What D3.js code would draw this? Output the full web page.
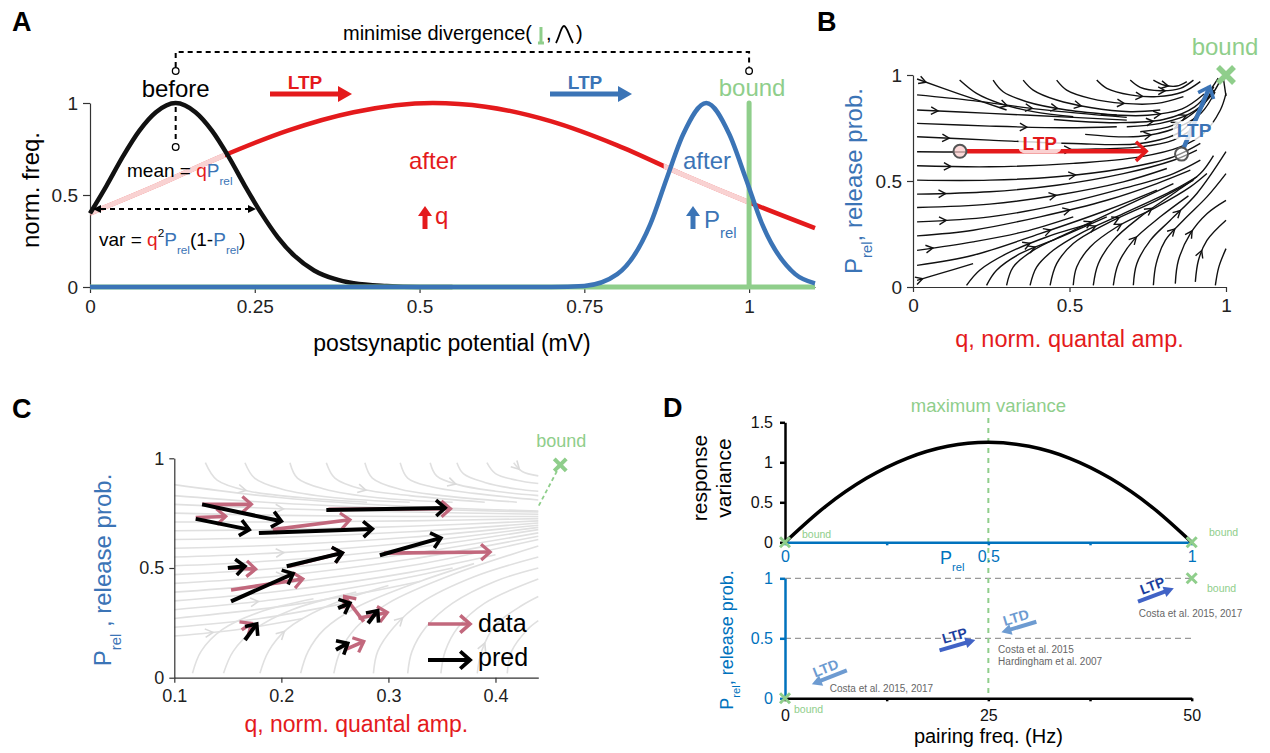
<!DOCTYPE html>
<html>
<head>
<meta charset="utf-8">
<script src="https://cdn.jsdelivr.net/npm/d3@7"></script>
<style>
  body { margin: 0; background: #fff; }
  svg { font-family: "Liberation Sans", Arial, Helvetica, sans-serif; }
</style>
</head>
<body>
<svg id="fig" width="1270" height="753"></svg>
<script>
const FONT = '"Liberation Sans", Arial, Helvetica, sans-serif'
const red = '#e41a1c', blue = '#3b74b6', green = '#8fce8b', pink = '#c2687d'
const mBlue = '#0072bd', ltpBlue = '#4163c6', ltpText = '#1c3f9e', ltdBlue = '#6d9bd1'

// ---------- data : panel A (x in mV, y = norm. freq.) ----------
const aTicksX = [0, 0.25, 0.5, 0.75, 1]
const aTicksY = [0, 0.5, 1]
const beforeCurve = [[0,.40],[.025,.55],[.05,.71],[.075,.85],[.1,.95],[.13,1],[.16,.95],[.185,.85],[.21,.71],[.235,.55],[.26,.40],[.285,.27],[.31,.17],[.34,.09],[.37,.045],[.40,.02],[.45,.005],[.5,0],[.55,0]]
const afterQCurve = [[0,.40],[.1,.55],[.2,.71],[.3,.85],[.4,.95],[.52,1],[.6,.98],[.7,.90],[.8,.77],[.9,.61],[1,.46],[1.1,.32]]
const afterPCurve = [[0,0],[.7,0],[.75,.006],[.8,.07],[.85,.34],[.875,.59],[.9,.83],[.935,1],[.97,.83],[.995,.59],[1.02,.34],[1.07,.07],[1.1,.02]]
const boundCurve = [[0,0],[1,0],[1,1],[1,0],[1.1,0]]
const hiddenQ = [[0,.205],[.875,1]]

// ---------- data : panel B (q, P_rel) streamlines ----------
const bTicks = [0, 0.5, 1]
const bStreams = [
  [[.013,.981],[.149,.910],[.299,.835]],
  [[.013,.906],[.192,.879],[.406,.838],[.683,.800]],
  [[.013,.835],[.245,.819],[.512,.800],[.683,.787]],
  [[.013,.772],[.245,.759],[.491,.751],[.651,.756]],
  [[.013,.709],[.245,.693],[.512,.677],[.726,.677],[.854,.732],[.918,.835],[.961,.945]],
  [[.013,.638],[.277,.638],[.512,.649],[.726,.661],[.832,.693],[.896,.748]],
  [[.013,.572],[.245,.567],[.512,.583],[.726,.614],[.854,.661],[.928,.724],[.982,.835],[1.0,.913]],
  [[.013,.504],[.245,.504],[.459,.520],[.672,.559],[.832,.614],[.918,.677]],
  [[.013,.438],[.245,.449],[.459,.480],[.672,.535],[.832,.598],[.907,.646]],
  [[.013,.375],[.245,.391],[.459,.433],[.672,.496],[.811,.559]],
  [[.013,.307],[.245,.331],[.459,.386],[.672,.465],[.832,.535],[.918,.598]],
  [[.013,.241],[.192,.268],[.406,.331],[.619,.409],[.779,.488],[.886,.551]],
  [[.013,.173],[.192,.213],[.352,.260],[.512,.331]],
  [[.013,.102],[.192,.150],[.406,.252],[.619,.362],[.779,.457]],
  [[.013,.031],[.085,.063],[.192,.110]],
  [[.171,.008],[.213,.079],[.299,.157],[.427,.236],[.566,.299]],
  [[.235,.008],[.267,.079],[.342,.157],[.459,.228],[.619,.331]],
  [[.299,.008],[.320,.094],[.384,.173],[.491,.252],[.672,.378],[.832,.488]],
  [[.374,.008],[.395,.094],[.448,.173],[.534,.252],[.672,.346],[.832,.457],[.907,.520]],
  [[.438,.008],[.459,.110],[.512,.205],[.619,.299],[.779,.409],[.896,.504]],
  [[.512,.008],[.523,.094],[.566,.189],[.651,.283],[.779,.378],[.886,.472],[.939,.535]],
  [[.576,.008],[.592,.110],[.640,.220],[.726,.331],[.832,.441],[.918,.535],[.960,.620]],
  [[.640,.008],[.656,.110],[.704,.220],[.790,.331],[.880,.430]],
  [[.704,.008],[.715,.110],[.758,.220],[.822,.315],[.907,.441],[1.0,.638]],
  [[.768,.008],[.777,.110],[.806,.220],[.864,.315],[.939,.425],[1.0,.535]],
  [[.838,.016],[.848,.126],[.886,.252],[.939,.346],[1.0,.409]],
  [[.902,.024],[.912,.126],[.939,.220],[1.0,.315]],
  [[.966,.008],[.977,.094],[1.0,.181]],
  [[.149,.976],[.203,.913],[.277,.866],[.384,.827],[.512,.803]],
  [[.256,.976],[.288,.921],[.363,.874],[.491,.835],[.651,.811]],
  [[.352,.976],[.384,.929],[.459,.882],[.566,.847],[.694,.827],[.790,.835]],
  [[.459,.976],[.491,.929],[.566,.890],[.672,.866],[.779,.866],[.864,.898]],
  [[.587,.976],[.619,.937],[.694,.906],[.779,.898],[.864,.921],[.918,.969]],
  [[.694,.976],[.726,.942],[.790,.926],[.854,.937],[.896,.976]],
  [[.768,.976],[.801,.953],[.843,.948],[.875,.969]],
  [[.683,.756],[.790,.772],[.886,.819],[.950,.898],[.982,.976]],
  [[.726,.732],[.832,.764],[.907,.835],[.961,.929]],
  [[.45,.79],[.65,.775],[.80,.79],[.90,.85],[.95,.93],[.975,.985]],
  [[.55,.72],[.72,.71],[.84,.75],[.92,.82],[.965,.92]],
  [[.60,.815],[.75,.81],[.86,.84],[.93,.91]],
  [[1.0,.90],[.992,.98]]
]
const bLtpQ = { from: [.15,.64], to: [.745,.64] }
const bLtpP = { from: [.858,.627], to: [.948,.945] }

// ---------- data : panel C ----------
const cTicksX = [0.1, 0.2, 0.3, 0.4]
const cTicksY = [0, 0.5, 1]
const cStreams = [
  [[.129,.98],[.14,.9],[.17,.85],[.22,.82],[.28,.80]],
  [[.166,.98],[.175,.91],[.2,.86],[.25,.82],[.32,.80]],
  [[.208,.98],[.215,.91],[.24,.86],[.29,.82],[.36,.80]],
  [[.242,.98],[.25,.91],[.275,.86],[.32,.83],[.39,.80]],
  [[.278,.98],[.285,.91],[.31,.86],[.35,.83],[.42,.80]],
  [[.311,.98],[.318,.91],[.34,.87],[.38,.84],[.44,.81]],
  [[.339,.98],[.345,.92],[.365,.88],[.40,.85],[.44,.83]],
  [[.364,.98],[.37,.93],[.39,.89],[.42,.86],[.44,.85]],
  [[.392,.98],[.40,.93],[.42,.90],[.44,.885]],
  [[.417,.98],[.425,.94],[.44,.92]],
  [[.1,.88],[.2,.82],[.32,.78],[.44,.76]],
  [[.1,.83],[.2,.795],[.32,.77],[.44,.755]],
  [[.1,.79],[.2,.77],[.32,.755],[.44,.745]],
  [[.1,.75],[.2,.74],[.32,.735],[.44,.735]],
  [[.1,.71],[.2,.71],[.32,.715],[.44,.725]],
  [[.1,.67],[.2,.675],[.32,.69],[.44,.715]],
  [[.1,.63],[.2,.64],[.32,.665],[.44,.705]],
  [[.1,.59],[.2,.605],[.32,.64],[.44,.695]],
  [[.1,.55],[.2,.57],[.32,.615],[.44,.685]],
  [[.1,.51],[.2,.535],[.32,.59],[.44,.675]],
  [[.1,.47],[.2,.50],[.32,.565],[.44,.66]],
  [[.1,.43],[.2,.465],[.32,.54],[.44,.645]],
  [[.1,.39],[.2,.43],[.32,.51],[.44,.63]],
  [[.1,.35],[.2,.395],[.32,.48],[.40,.56]],
  [[.1,.31],[.2,.36],[.30,.44],[.36,.50]],
  [[.1,.27],[.2,.325],[.28,.39],[.33,.44]],
  [[.1,.23],[.18,.27],[.26,.34]],
  [[.1,.19],[.16,.22],[.22,.27]],
  [[.117,.02],[.125,.12],[.145,.22],[.18,.30],[.23,.36]],
  [[.146,.02],[.155,.12],[.175,.22],[.21,.31],[.27,.39]],
  [[.18,.02],[.188,.12],[.205,.22],[.24,.32],[.30,.42]],
  [[.218,.02],[.225,.12],[.24,.22],[.27,.32],[.33,.44],[.38,.52]],
  [[.249,.02],[.255,.12],[.27,.23],[.30,.34],[.36,.47],[.44,.60]],
  [[.286,.02],[.29,.12],[.305,.23],[.33,.34],[.38,.46],[.44,.55]],
  [[.318,.02],[.322,.12],[.335,.23],[.36,.34],[.40,.44],[.44,.50]],
  [[.349,.02],[.353,.12],[.365,.23],[.39,.34],[.44,.45]],
  [[.383,.02],[.387,.12],[.40,.24],[.425,.33],[.44,.37]],
  [[.411,.02],[.415,.12],[.43,.22],[.44,.26]]
]
// measured (data) and predicted changes: [q0, P0, q1, P1]
const cData = [
  [.126,.79,.172,.79],[.12,.73,.148,.735],[.192,.675,.264,.72],[.244,.767,.358,.77],
  [.296,.568,.395,.573],[.207,.508,.257,.569],[.152,.50,.176,.495],[.153,.40,.22,.45],
  [.163,.218,.172,.248],[.277,.256,.259,.37],[.272,.271,.299,.297],[.259,.127,.277,.165]
]
const cPred = [
  [.126,.79,.20,.713],[.12,.724,.17,.675],[.179,.66,.285,.678],[.242,.764,.353,.774],
  [.292,.558,.349,.637],[.205,.508,.257,.569],[.15,.50,.166,.508],[.153,.348,.211,.474],
  [.166,.172,.177,.245],[.253,.317,.264,.34],[.281,.248,.29,.306],[.251,.127,.262,.157]
]
const cBound = [.4605, .97]

// ---------- data : panel D ----------
const dVarP = [0, .1, .2, .3, .4, .5, .6, .7, .8, .9, 1]
const dVar = [0, .45, .8, 1.05, 1.2, 1.25, 1.2, 1.05, .8, .45, 0]
const dArrows = [
  { kind: 'LTD', from: [7.6,.233], to: [3.3,.117] },
  { kind: 'LTP', from: [19.0,.40], to: [23.4,.486] },
  { kind: 'LTD', from: [30.9,.638], to: [26.6,.55] },
  { kind: 'LTP', from: [43.4,.805], to: [47.8,.917] }
]
const dRefs = [
  { f: 5.5, p: .055, lines: ['Costa et al. 2015, 2017'] },
  { f: 26.2, p: .38, lines: ['Costa et al. 2015', 'Hardingham et al. 2007'] },
  { f: 43.5, p: .68, lines: ['Costa et al. 2015, 2017'] }
]

// ---------- helpers ----------
const svg = d3.select('#fig')

function chevron(g, x1, y1, x2, y2, len, color, w, ang = 0.62) {
  const a = Math.atan2(y2 - y1, x2 - x1)
  const p1 = [x2 - len * Math.cos(a - ang), y2 - len * Math.sin(a - ang)]
  const p2 = [x2 - len * Math.cos(a + ang), y2 - len * Math.sin(a + ang)]
  g.append('path').attr('d', `M${p1}L${x2},${y2}L${p2}`)
    .attr('fill', 'none').attr('stroke', color).attr('stroke-width', w)
}
function solidArrow(g, x1, y1, x2, y2, hl, hw, color, w) {
  const a = Math.atan2(y2 - y1, x2 - x1), c = Math.cos(a), s = Math.sin(a)
  const bx = x2 - hl * c, by = y2 - hl * s
  g.append('line').attr('x1', x1).attr('y1', y1).attr('x2', bx + c).attr('y2', by + s)
    .attr('stroke', color).attr('stroke-width', w)
  g.append('path')
    .attr('d', `M${x2},${y2}L${bx - hw / 2 * s},${by + hw / 2 * c}L${bx + hw / 2 * s},${by - hw / 2 * c}Z`)
    .attr('fill', color)
}
function rich(g, x, y, size, parts, anchor = 'start') {
  const t = g.append('text').attr('x', x).attr('y', y).attr('font-size', size).attr('text-anchor', anchor)
  let cur = 0
  parts.forEach(p => {
    const off = p.sub ? size * 0.4 : p.sup ? -size * 0.5 : 0
    t.append('tspan').attr('dy', off - cur)
      .attr('font-size', (p.sub || p.sup) ? size * 0.62 : size)
      .attr('fill', p.c || '#000').text(p.t)
    cur = off
  })
  return t
}
function styleAxis(sel, size, col, txt, w) {
  sel.attr('font-family', FONT)
  sel.select('.domain').attr('stroke', col).attr('stroke-width', w || 1.2)
  sel.selectAll('.tick line').attr('stroke', col).attr('stroke-width', w || 1.2)
  sel.selectAll('.tick text').attr('font-size', size).attr('fill', txt || '#222')
}
function streamArrows(g, path, fracs, color, len, w) {
  const node = path.node(), L = node.getTotalLength()
  fracs.forEach(f => {
    const p = node.getPointAtLength(f * L), q = node.getPointAtLength(f * L - 2)
    chevron(g, q.x, q.y, p.x, p.y, len, color, w, 0.5)
  })
}
function panelLetter(x, y, t) {
  svg.append('text').attr('x', x).attr('y', y).attr('font-size', 27).attr('font-weight', 700).text(t)
}
function bgLabel(g, x, y, txt, color, size) {
  const t = g.append('text').attr('x', x).attr('y', y).attr('text-anchor', 'middle')
    .attr('font-size', size).attr('font-weight', 700).attr('fill', color).text(txt)
  const bb = t.node().getBBox()
  g.insert('rect', () => t.node()).attr('x', bb.x - 4).attr('y', bb.y + 1)
    .attr('width', bb.width + 8).attr('height', bb.height - 2).attr('rx', 6)
    .attr('fill', '#fff').attr('fill-opacity', 0.8)
}

// =================== PANEL A ===================
const gA = svg.append('g')
const xA = d3.scaleLinear().domain([0, 1.1]).range([90, 815])
const yA = d3.scaleLinear().domain([0, 1]).range([287, 103])
panelLetter(12, 31, 'A')

gA.append('g').attr('transform', 'translate(0,287)')
  .call(d3.axisBottom(xA).tickValues(aTicksX).tickSize(6).tickSizeOuter(0).tickPadding(7).tickFormat(d => d))
  .call(s => styleAxis(s, 19, '#333'))
gA.append('g').attr('transform', 'translate(90,0)')
  .call(d3.axisLeft(yA).tickValues(aTicksY).tickSize(7).tickSizeOuter(0).tickPadding(5).tickFormat(d => d))
  .call(s => styleAxis(s, 19, '#333'))

const lineA = d3.line().x(d => xA(d[0])).y(d => yA(d[1])).curve(d3.curveMonotoneX)
gA.append('path').attr('d', lineA(afterQCurve)).attr('fill', 'none').attr('stroke', red).attr('stroke-width', 4.5)
hiddenQ.forEach((r, i) => {
  gA.append('clipPath').attr('id', 'hq' + i).append('rect')
    .attr('x', xA(r[0]) - 3).attr('y', 90).attr('width', xA(r[1]) - xA(r[0]) + 3).attr('height', 210)
  gA.append('path').attr('d', lineA(afterQCurve)).attr('clip-path', `url(#hq${i})`)
    .attr('fill', 'none').attr('stroke', '#f9d2d2').attr('stroke-width', 5)
})
gA.append('path').attr('d', lineA(beforeCurve)).attr('fill', 'none').attr('stroke', '#111').attr('stroke-width', 4.5)
gA.append('path').attr('d', d3.line().x(d => xA(d[0])).y(d => yA(d[1]))(boundCurve))
  .attr('fill', 'none').attr('stroke', green).attr('stroke-width', 5).attr('stroke-linejoin', 'round')
gA.append('path').attr('d', lineA(afterPCurve)).attr('fill', 'none').attr('stroke', blue).attr('stroke-width', 4.5)

// divergence bracket
const bx0 = xA(0.13), bx1 = xA(1)
gA.append('path').attr('d', `M${bx0},67V52H${bx1}V67`).attr('fill', 'none')
  .attr('stroke', '#000').attr('stroke-width', 2).attr('stroke-dasharray', '5,4')
;[bx0, bx1].forEach(x => gA.append('circle').attr('cx', x).attr('cy', 71).attr('r', 3.3)
  .attr('fill', '#fff').attr('stroke', '#000').attr('stroke-width', 1.3))
const divT = gA.append('text').attr('x', 343).attr('y', 40).attr('font-size', 20).text('minimise divergence(')
const dEnd = 343 + divT.node().getComputedTextLength()
gA.append('path').attr('d', `M${dEnd + 9},27V43M${dEnd + 6},43H${dEnd + 12}`).attr('stroke', green).attr('stroke-width', 3).attr('fill', 'none')
gA.append('text').attr('x', dEnd + 14).attr('y', 40).attr('font-size', 20).text(',')
gA.append('path').attr('d', `M${dEnd + 24},43C${dEnd + 28},36 ${dEnd + 29},26 ${dEnd + 32},26C${dEnd + 35},26 ${dEnd + 37},36 ${dEnd + 41},43`)
  .attr('stroke', '#000').attr('stroke-width', 1.8).attr('fill', 'none')
gA.append('text').attr('x', dEnd + 44).attr('y', 40).attr('font-size', 20).text(')')

// before / mean / var
gA.append('text').attr('x', bx0).attr('y', 97).attr('text-anchor', 'middle').attr('font-size', 24).text('before')
gA.append('line').attr('x1', bx0).attr('x2', bx0).attr('y1', yA(1) + 4).attr('y2', 143)
  .attr('stroke', '#000').attr('stroke-width', 2).attr('stroke-dasharray', '5,4')
gA.append('circle').attr('cx', bx0).attr('cy', 147).attr('r', 3.3).attr('fill', '#fff').attr('stroke', '#000').attr('stroke-width', 1.3)
rich(gA, 127, 177, 19, [{ t: 'mean = ' }, { t: 'q', c: red }, { t: 'P', c: blue }, { t: 'rel', c: blue, sub: 1 }])
const vy = 209
gA.append('line').attr('x1', 101).attr('x2', 247).attr('y1', vy).attr('y2', vy)
  .attr('stroke', '#000').attr('stroke-width', 2).attr('stroke-dasharray', '5,4')
solidArrow(gA, 104, vy, 93, vy, 8, 8, '#000', 2)
solidArrow(gA, 245, vy, 256, vy, 8, 8, '#000', 2)
rich(gA, 99, 246, 19, [{ t: 'var = ' }, { t: 'q', c: red }, { t: '2', sup: 1 }, { t: 'P', c: blue }, { t: 'rel', c: blue, sub: 1 },
  { t: '(1-' }, { t: 'P', c: blue }, { t: 'rel', c: blue, sub: 1 }, { t: ')' }])

// LTP arrows
gA.append('text').attr('x', 305).attr('y', 89).attr('text-anchor', 'middle').attr('font-size', 19).attr('font-weight', 700).attr('fill', red).text('LTP')
solidArrow(gA, 270, 94, 352, 94, 14, 16, red, 5)
gA.append('text').attr('x', 585).attr('y', 89).attr('text-anchor', 'middle').attr('font-size', 19).attr('font-weight', 700).attr('fill', blue).text('LTP')
solidArrow(gA, 550, 94, 632, 94, 14, 16, blue, 5)
gA.append('text').attr('x', xA(1) + 3).attr('y', 96).attr('text-anchor', 'middle').attr('font-size', 24).attr('fill', green).text('bound')

gA.append('text').attr('x', 433).attr('y', 169).attr('text-anchor', 'middle').attr('font-size', 24).attr('fill', red).text('after')
solidArrow(gA, 425, 229, 425, 206, 10, 14, red, 5)
gA.append('text').attr('x', 435).attr('y', 224).attr('font-size', 24).attr('fill', red).text('q')
gA.append('text').attr('x', 707).attr('y', 169).attr('text-anchor', 'middle').attr('font-size', 24).attr('fill', blue).text('after')
solidArrow(gA, 693, 229, 693, 206, 10, 14, blue, 5)
rich(gA, 704, 228, 24, [{ t: 'P', c: blue }, { t: 'rel', c: blue, sub: 1 }])

gA.append('text').attr('transform', 'translate(39,190) rotate(-90)').attr('text-anchor', 'middle').attr('font-size', 24).text('norm. freq.')
gA.append('text').attr('x', 452).attr('y', 351).attr('text-anchor', 'middle').attr('font-size', 23).text('postsynaptic potential (mV)')

// =================== PANEL B ===================
const gB = svg.append('g')
const xB = d3.scaleLinear().domain([0, 1]).range([913, 1226])
const yB = d3.scaleLinear().domain([0, 1]).range([287, 75])
panelLetter(817, 31, 'B')
gB.append('g').attr('transform', 'translate(0,287)')
  .call(d3.axisBottom(xB).tickValues(bTicks).tickSize(5).tickSizeOuter(0).tickPadding(7).tickFormat(d => d))
  .call(s => styleAxis(s, 19, '#333'))
gB.append('g').attr('transform', 'translate(913,0)')
  .call(d3.axisLeft(yB).tickValues(bTicks).tickSize(6).tickSizeOuter(0).tickPadding(5).tickFormat(d => d))
  .call(s => styleAxis(s, 19, '#333'))

const lineB = d3.line().x(d => xB(d[0])).y(d => yB(d[1])).curve(d3.curveCatmullRom.alpha(0.5))
bStreams.forEach((s, i) => {
  const p = gB.append('path').attr('d', lineB(s)).attr('fill', 'none').attr('stroke', '#111').attr('stroke-width', 1.4)
  if (i % 2 === 0 && s.length > 2) streamArrows(gB, p, [i < 15 ? 0.1 : 0.45], '#111', 8, 1.4)
  else if (s.length > 3) streamArrows(gB, p, [0.55], '#111', 8, 1.4)
})

// LTP arrows on flow field
const ry = yB(bLtpQ.from[1])
gB.append('line').attr('x1', xB(bLtpQ.from[0]) + 6).attr('x2', xB(bLtpQ.to[0])).attr('y1', ry).attr('y2', ry)
  .attr('stroke', red).attr('stroke-width', 4.5)
chevron(gB, xB(bLtpQ.from[0]), ry, xB(bLtpQ.to[0]), ry, 14, red, 3.5, 0.75)
bgLabel(gB, xB(0.405), ry - 1, 'LTP', red, 19)
gB.append('circle').attr('cx', xB(bLtpQ.from[0])).attr('cy', ry).attr('r', 6.5)
  .attr('fill', '#f9c9c9').attr('fill-opacity', 0.7).attr('stroke', '#555').attr('stroke-width', 2)

const pb0 = [xB(bLtpP.from[0]), yB(bLtpP.from[1])], pb1 = [xB(bLtpP.to[0]), yB(bLtpP.to[1])]
gB.append('line').attr('x1', pb0[0] + 2).attr('y1', pb0[1] - 6).attr('x2', pb1[0]).attr('y2', pb1[1])
  .attr('stroke', blue).attr('stroke-width', 4.5)
chevron(gB, pb0[0], pb0[1], pb1[0], pb1[1], 13, blue, 3.5, 0.7)
bgLabel(gB, xB(0.898), yB(0.707), 'LTP', blue, 19)
gB.append('circle').attr('cx', pb0[0]).attr('cy', pb0[1]).attr('r', 6.5)
  .attr('fill', '#fff').attr('fill-opacity', 0.5).attr('stroke', '#555').attr('stroke-width', 2)

gB.append('path').attr('d', `M${xB(1) - 8},${yB(1) - 8}l16,16M${xB(1) + 8},${yB(1) - 8}l-16,16`)
  .attr('stroke', green).attr('stroke-width', 5.5)
gB.append('text').attr('x', xB(1) - 1).attr('y', 55).attr('text-anchor', 'middle').attr('font-size', 24).attr('fill', green).text('bound')
gB.append('text').attr('x', xB(0.5)).attr('y', 347).attr('text-anchor', 'middle').attr('font-size', 23.5).attr('fill', red).text('q, norm. quantal amp.')
rich(gB.append('g').attr('transform', 'translate(862,181) rotate(-90)'), 0, 0, 24,
  [{ t: 'P', c: blue }, { t: 'rel', c: blue, sub: 1 }, { t: ', release prob.', c: blue }], 'middle')

// =================== PANEL C ===================
const gC = svg.append('g')
const xC = d3.scaleLinear().domain([0.1, 0.44]).range([174.3, 538.3])
const yC = d3.scaleLinear().domain([0, 1]).range([677.7, 458.3])
panelLetter(12, 418, 'C')
const lineC = d3.line().x(d => xC(d[0])).y(d => yC(d[1])).curve(d3.curveCatmullRom.alpha(0.5))
cStreams.forEach((s, i) => {
  const p = gC.append('path').attr('d', lineC(s)).attr('fill', 'none').attr('stroke', '#e0e0e0').attr('stroke-width', 1.6)
  if (i % 3 === 0) streamArrows(gC, p, [0.3], '#dadada', 9, 1.6)
})
gC.append('g').attr('transform', 'translate(0,677.7)')
  .call(d3.axisBottom(xC).tickValues(cTicksX).tickSize(5).tickSizeOuter(0).tickPadding(7).tickFormat(d => d))
  .call(s => styleAxis(s, 18, '#333'))
gC.append('g').attr('transform', 'translate(174.3,0)')
  .call(d3.axisLeft(yC).tickValues(cTicksY).tickSize(5).tickSizeOuter(0).tickPadding(5).tickFormat(d => d))
  .call(s => styleAxis(s, 18, '#333'))

function drawVec(d, color, w) {
  const x1 = xC(d[0]), y1 = yC(d[1]), x2 = xC(d[2]), y2 = yC(d[3])
  gC.append('line').attr('x1', x1).attr('y1', y1).attr('x2', x2).attr('y2', y2).attr('stroke', color).attr('stroke-width', w)
  chevron(gC, x1, y1, x2, y2, 12, color, w * 0.9, 0.72)
}
cData.forEach(d => drawVec(d, pink, 3.6))
cPred.forEach(d => drawVec(d, '#000', 4))

// legend
const lgX = 428
chevron(gC, lgX, 624, lgX + 42, 624, 13, pink, 3.6, 0.72)
gC.append('line').attr('x1', lgX).attr('x2', lgX + 42).attr('y1', 624).attr('y2', 624).attr('stroke', pink).attr('stroke-width', 3.6)
chevron(gC, lgX, 660, lgX + 42, 660, 13, '#000', 3.8, 0.72)
gC.append('line').attr('x1', lgX).attr('x2', lgX + 42).attr('y1', 660).attr('y2', 660).attr('stroke', '#000').attr('stroke-width', 4)
gC.append('text').attr('x', lgX + 50).attr('y', 632).attr('font-size', 25).text('data')
gC.append('text').attr('x', lgX + 50).attr('y', 666).attr('font-size', 25).text('pred')

gC.append('line').attr('x1', xC(cBound[0])).attr('y1', yC(cBound[1])).attr('x2', xC(0.44)).attr('y2', yC(0.78))
  .attr('stroke', green).attr('stroke-width', 1.8).attr('stroke-dasharray', '4,3')
gC.append('path').attr('d', `M${xC(cBound[0]) - 6},${yC(cBound[1]) - 6}l12,12M${xC(cBound[0]) + 6},${yC(cBound[1]) - 6}l-12,12`)
  .attr('stroke', green).attr('stroke-width', 4)
gC.append('text').attr('x', xC(cBound[0]) + 1).attr('y', 447).attr('text-anchor', 'middle').attr('font-size', 18).attr('fill', green).text('bound')
gC.append('text').attr('x', xC(0.27)).attr('y', 732).attr('text-anchor', 'middle').attr('font-size', 23).attr('fill', red).text('q, norm. quantal amp.')
rich(gC.append('g').attr('transform', 'translate(111,570) rotate(-90)'), 0, 0, 24,
  [{ t: 'P', c: blue }, { t: 'rel', c: blue, sub: 1 }, { t: ' , release prob.', c: blue }], 'middle')

// =================== PANEL D ===================
const gD = svg.append('g')
const xD = d3.scaleLinear().domain([0, 1]).range([785, 1191.7])
const yDv = d3.scaleLinear().domain([0, 1.5]).range([542.3, 422.3])
const xF = d3.scaleLinear().domain([0, 50]).range([785, 1191.7])
const yDp = d3.scaleLinear().domain([0, 1]).range([698.3, 578.3])
panelLetter(663, 417, 'D')

// guides
;[1, 0.5].forEach(p => gD.append('line').attr('x1', xF(0)).attr('x2', xF(50)).attr('y1', yDp(p)).attr('y2', yDp(p))
  .attr('stroke', '#999').attr('stroke-width', 1.2).attr('stroke-dasharray', '6,4'))
gD.append('line').attr('x1', xD(0.5)).attr('x2', xD(0.5)).attr('y1', 418).attr('y2', yDp(0))
  .attr('stroke', green).attr('stroke-width', 2).attr('stroke-dasharray', '5,5')
gD.append('text').attr('x', xD(0.5)).attr('y', 412).attr('text-anchor', 'middle').attr('font-size', 18.5).attr('fill', green).text('maximum variance')

gD.append('g').attr('transform', 'translate(785,0)')
  .call(d3.axisLeft(yDv).tickValues([0, .5, 1, 1.5]).tickSize(5).tickSizeOuter(0).tickPadding(7).tickFormat(d => d))
  .call(s => styleAxis(s, 16, '#000', '#111', 2.5))
gD.append('g').attr('transform', 'translate(0,542.3)')
  .call(d3.axisBottom(xD).tickValues([0, .25, .5, .75, 1]).tickSize(3).tickSizeOuter(0).tickPadding(5)
    .tickFormat(d => [0, .5, 1].includes(d) ? d : ''))
  .call(s => styleAxis(s, 16, mBlue, mBlue, 2.5))
gD.append('path').attr('d', d3.line().x((d, i) => xD(dVarP[i])).y(d => yDv(d)).curve(d3.curveMonotoneX)(dVar))
  .attr('fill', 'none').attr('stroke', '#000').attr('stroke-width', 3.5)
rich(gD, 940, 564, 18, [{ t: 'P', c: mBlue }, { t: 'rel', c: mBlue, sub: 1 }])
gD.append('text').attr('transform', 'translate(707,478) rotate(-90)').attr('text-anchor', 'middle').attr('font-size', 21).text('response')
gD.append('text').attr('transform', 'translate(731,478) rotate(-90)').attr('text-anchor', 'middle').attr('font-size', 21).text('variance')

gD.append('g').attr('transform', 'translate(785,0)')
  .call(d3.axisLeft(yDp).tickValues([0, .5, 1]).tickSize(5).tickSizeOuter(0).tickPadding(7).tickFormat(d => d))
  .call(s => styleAxis(s, 16, mBlue, mBlue, 2.5))
gD.append('g').attr('transform', 'translate(0,698.3)')
  .call(d3.axisBottom(xF).tickValues([0, 12.5, 25, 37.5, 50]).tickSize(3).tickSizeOuter(0).tickPadding(8)
    .tickFormat(d => d % 25 === 0 ? d : ''))
  .call(s => styleAxis(s, 16, '#000', '#111', 2.5))
gD.append('text').attr('x', xF(25)).attr('y', 743).attr('text-anchor', 'middle').attr('font-size', 20).text('pairing freq. (Hz)')
rich(gD.append('g').attr('transform', 'translate(733,640) rotate(-90)'), 0, 0, 18,
  [{ t: 'P', c: mBlue }, { t: 'rel', c: mBlue, sub: 1 }, { t: ', release prob.', c: mBlue }], 'middle')

// bounds
function xMark(x, y) {
  gD.append('path').attr('d', `M${x - 5},${y - 5}l10,10M${x + 5},${y - 5}l-10,10`).attr('stroke', green).attr('stroke-width', 3)
}
xMark(xD(0), yDv(0)); xMark(xD(1), yDv(0)); xMark(xF(0), yDp(0)); xMark(xF(50), yDp(1))
const bnd = (x, y) => gD.append('text').attr('x', x).attr('y', y).attr('font-size', 10.5).attr('fill', green).text('bound')
bnd(802, 538); bnd(1209, 536); bnd(794, 713); bnd(1207, 592)

// plasticity arrows
dArrows.forEach(a => {
  const x1 = xF(a.from[0]), y1 = yDp(a.from[1]), x2 = xF(a.to[0]), y2 = yDp(a.to[1])
  const col = a.kind === 'LTP' ? ltpBlue : ltdBlue
  solidArrow(gD, x1, y1, x2, y2, 10, 11, col, 4)
  const ang = Math.atan2(y2 - y1, x2 - x1) * 180 / Math.PI
  const rot = a.kind === 'LTP' ? ang : ang + 180
  const mx = (x1 + x2) / 2, my = (y1 + y2) / 2
  gD.append('text').attr('transform', `translate(${mx},${my}) rotate(${rot}) translate(0,-5)`)
    .attr('text-anchor', 'middle').attr('font-size', 14).attr('font-weight', 700)
    .attr('fill', a.kind === 'LTP' ? ltpText : ltdBlue).text(a.kind)
})
dRefs.forEach(r => {
  r.lines.forEach((l, i) => gD.append('text').attr('x', xF(r.f)).attr('y', yDp(r.p) + i * 12)
    .attr('font-size', 10).attr('fill', '#666').text(l))
})
</script>
</body>
</html>
